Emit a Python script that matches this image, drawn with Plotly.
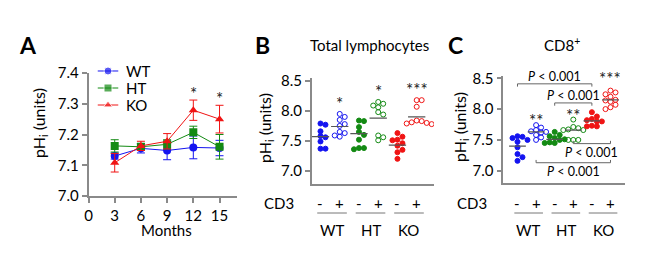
import plotly.graph_objects as go

# ---------------- data ----------------
months = [3, 6, 9, 12, 15]
wt_a = [7.130, 7.155, 7.148, 7.158, 7.156]
wt_a_err = [0.010, 0.015, 0.030, 0.037, 0.025]
ht_a = [7.163, 7.160, 7.168, 7.207, 7.160]
ht_a_err = [0.020, 0.010, 0.015, 0.020, 0.040]
ko_a = [7.108, 7.163, 7.178, 7.279, 7.250]
ko_a_err = [0.030, 0.015, 0.025, 0.033, 0.045]
a_sig_months = [12, 15]
a_sig_labels = ["*", "*"]

series_names = ["WT", "HT", "KO"]
groups = ["WT", "HT", "KO"]
cd3 = ["-", "+", "-", "+", "-", "+"]

# Panel B: total lymphocytes
b_wt_neg = [7.79, 7.77, 7.66, 7.58, 7.56, 7.49, 7.37, 7.37]
b_wt_pos = [7.95, 7.90, 7.85, 7.78, 7.75, 7.65, 7.63, 7.59, 7.57]
b_ht_neg = [7.84, 7.83, 7.73, 7.65, 7.60, 7.52, 7.38, 7.36, 7.38]
b_ht_pos = [8.15, 8.12, 8.09, 8.06, 7.98, 7.94, 7.59, 7.56, 7.51]
b_ko_neg = [7.63, 7.57, 7.52, 7.51, 7.46, 7.42, 7.35, 7.31, 7.20]
b_ko_pos = [8.18, 8.18, 8.07, 7.84, 7.83, 7.81, 7.79, 7.78, 7.80]
b_means = [7.57, 7.74, 7.62, 7.88, 7.43, 7.90]
b_sig = ["", "*", "", "*", "", "***"]

# Panel C: CD8+
c_wt_neg = [7.56, 7.55, 7.53, 7.50, 7.47, 7.38, 7.27, 7.22, 7.16]
c_wt_pos = [7.74, 7.70, 7.66, 7.64, 7.63, 7.62, 7.58, 7.54, 7.50]
c_ht_neg = [7.63, 7.58, 7.56, 7.53, 7.51, 7.50, 7.46, 7.45, 7.45]
c_ht_pos = [7.83, 7.71, 7.69, 7.67, 7.66, 7.66, 7.50, 7.50, 7.50]
c_ko_neg = [7.95, 7.88, 7.84, 7.82, 7.80, 7.80, 7.73, 7.72, 7.72]
c_ko_pos = [8.30, 8.27, 8.24, 8.20, 8.15, 8.14, 8.12, 8.07, 8.03, 8.00]
c_means = [7.40, 7.63, 7.51, 7.66, 7.81, 8.15]
c_sig = ["", "**", "", "**", "", "***"]
# comparisons: (from index, to index)
c_pairs = [(0, 4), (2, 4), (3, 5), (1, 5)]
p_label = "<i>P</i> < 0.001"

# ---------------- styling / layout constants ----------------
W, H = 650, 266
OFF = 8  # page body margin of the html page
FONT = "Lato"
BLUE, GREEN, RED = "#1414f0", "#138a13", "#f01414"
AXC = "#8a8a8a"
cols6 = [BLUE, BLUE, GREEN, GREEN, RED, RED]
series_cols = [BLUE, GREEN, RED]
series_syms = ["circle", "square", "triangle-up"]
# bracket levels / label placement in panel C (annotation geometry)
c_bracket_levels = [8.41, 8.10, 7.44, 7.13]
c_bracket_below = [False, False, True, True]
b_star_gap = [0, 0.17, 0, 0.17, 0, 0.17]
c_star_gap = [0, 0.07, 0, 0.06, 0, 0.19]


def px_x(p):
    return (p - OFF) / W


def px_y(p):
    return 1 - (p - OFF) / H


def swarm(vals, px_per_unit, cat_px, d=5.0):
    """simple deterministic beeswarm offsets (category units)"""
    placed = []
    offs = [0.0] * len(vals)
    order = sorted(range(len(vals)), key=lambda i: -vals[i])
    cands = [0, d, -d, 2 * d, -2 * d, 3 * d, -3 * d]
    for i in order:
        yp = vals[i] * px_per_unit
        for c in cands:
            ok = all(((c - ox) ** 2 + (yp - oy) ** 2) >= (d * 0.95) ** 2 for ox, oy in placed)
            if ok:
                placed.append((c, yp))
                offs[i] = c / cat_px
                break
    return offs


def ann(**kw):
    d = dict(showarrow=False, xanchor="center", yanchor="middle")
    d.update(kw)
    return d


fig = go.Figure()

# ---------- Panel A ----------
for name, vals, err, col, sym in zip(series_names, [wt_a, ht_a, ko_a],
                                     [wt_a_err, ht_a_err, ko_a_err], series_cols, series_syms):
    fig.add_trace(go.Scatter(
        x=months, y=vals, name=name, mode="lines+markers", showlegend=False,
        line=dict(color=col, width=1),
        marker=dict(color=col, symbol=sym, size=8),
        error_y=dict(type="data", array=err, color=col, thickness=1, width=4),
        xaxis="x", yaxis="y"))

# manual legend for panel A (short sample lines like the reference)
for k, (name, col, sym) in enumerate(zip(series_names, series_cols, series_syms)):
    fig.add_trace(go.Scatter(
        x=[0, 0.5, 1], y=[k, k, k], mode="lines+markers", showlegend=False, hoverinfo="skip",
        line=dict(color=col, width=1),
        marker=dict(color=col, symbol=sym, size=[0, 8, 0]),
        xaxis="x4", yaxis="y4"))


# ---------- Panels B and C ----------
def add_scatter_panel(data, means, xa, ya, ppu, cat_px):
    for i, vals in enumerate(data):
        offs = swarm(vals, ppu, cat_px)
        filled = (i % 2 == 0)
        fig.add_trace(go.Scatter(
            x=[i + o for o in offs], y=vals, mode="markers", showlegend=False,
            marker=dict(size=5, color=cols6[i],
                        symbol="circle" if filled else "circle-open",
                        line=dict(color=cols6[i], width=1)),
            xaxis=xa, yaxis=ya))
        fig.add_trace(go.Scatter(
            x=[i - 0.45, i + 0.45], y=[means[i], means[i]], mode="lines",
            showlegend=False, line=dict(color="#555555", width=1.2),
            xaxis=xa, yaxis=ya, hoverinfo="skip"))


b_data = [b_wt_neg, b_wt_pos, b_ht_neg, b_ht_pos, b_ko_neg, b_ko_pos]
c_data = [c_wt_neg, c_wt_pos, c_ht_neg, c_ht_pos, c_ko_neg, c_ko_pos]
add_scatter_panel(b_data, b_means, "x2", "y2", 60.0, 19.24)
add_scatter_panel(c_data, c_means, "x3", "y3", 61.6, 18.6)

annotations = []
shapes = []

# legend texts
for k, name in enumerate(series_names):
    annotations.append(ann(x=px_x(124), y=px_y(71 + 17 * k), xref="paper", yref="paper",
                           text=name, xanchor="left",
                           font=dict(size=15, color="black", family=FONT)))

# significance stars panel A
for m, lab in zip(a_sig_months, a_sig_labels):
    idx = months.index(m)
    annotations.append(ann(x=m, y=ko_a[idx] + ko_a_err[idx] + 0.022, xref="x", yref="y",
                           text=lab, font=dict(size=17, color="#222", family=FONT)))


def stars(sig, data, gaps, xa, ya):
    for i, s in enumerate(sig):
        if s:
            annotations.append(ann(x=i, y=max(data[i]) + gaps[i], xref=xa, yref=ya, text=s,
                                   font=dict(size=17, color="#222", family=FONT)))


stars(b_sig, b_data, b_star_gap, "x2", "y2")
stars(c_sig, c_data, c_star_gap, "x3", "y3")

# brackets in C
for (a, b), lvl, below in zip(c_pairs, c_bracket_levels, c_bracket_below):
    tick = 0.045 if below else -0.045
    shapes.append(dict(type="path", xref="x3", yref="y3",
                       path=f"M {a},{lvl + tick} L {a},{lvl} L {b},{lvl} L {b},{lvl + tick}",
                       line=dict(color="#666", width=1)))
    annotations.append(ann(x=(a + b) / 2, y=lvl, xref="x3", yref="y3",
                           text=p_label,
                           yanchor="top" if below else "bottom",
                           yshift=1 if below else -2,
                           font=dict(size=12.5, color="black", family=FONT)))

# CD3 rows and group labels for B and C
for xa, lab_x in [("x2", 279), ("x3", 472)]:
    annotations.append(ann(x=px_x(lab_x), y=px_y(203), xref="paper", yref="paper",
                           text="CD3", font=dict(size=15, color="black", family=FONT)))
    for i, s in enumerate(cd3):
        annotations.append(ann(x=i, y=px_y(203), xref=xa, yref="paper",
                               text=s, font=dict(size=15, color="black", family=FONT)))
    for g, name in enumerate(groups):
        shapes.append(dict(type="line", xref=xa, yref="paper",
                           x0=2 * g - 0.17, x1=2 * g + 1.37,
                           y0=px_y(213), y1=px_y(213), line=dict(color="#777", width=1)))
        annotations.append(ann(x=2 * g + 0.6, y=px_y(230), xref=xa, yref="paper",
                               text=name, font=dict(size=15, color="black", family=FONT)))

# panel letters and titles
for lx, txt in [(28, "A"), (262, "B"), (455, "C")]:
    annotations.append(ann(x=px_x(lx), y=px_y(45), xref="paper", yref="paper", text=f"<b>{txt}</b>",
                           font=dict(size=23, color="black", family=FONT)))
annotations.append(ann(x=px_x(369), y=px_y(45), xref="paper", yref="paper", text="Total lymphocytes",
                       font=dict(size=15, color="black", family=FONT)))
annotations.append(ann(x=px_x(562), y=px_y(44), xref="paper", yref="paper", text="CD8<sup>+</sup>",
                       font=dict(size=15, color="black", family=FONT)))

# y titles
for tx, ty in [(40, 123), (265, 128), (460, 127)]:
    annotations.append(ann(x=px_x(tx), y=px_y(ty), xref="paper", yref="paper",
                           text="pH<sub>i</sub> (units)", textangle=-90,
                           font=dict(size=16, color="black", family=FONT)))
annotations.append(ann(x=px_x(166), y=px_y(230), xref="paper", yref="paper", text="Months",
                       font=dict(size=15, color="black", family=FONT)))

axis_common = dict(showline=True, linecolor=AXC, linewidth=1.5, showgrid=False, zeroline=False,
                   tickfont=dict(size=15, color="black", family=FONT), ticks="outside",
                   tickcolor=AXC, ticklen=5, tickwidth=1.5, automargin=False)
xcat_common = dict(showline=True, linecolor=AXC, linewidth=1.5, showgrid=False, zeroline=False,
                   showticklabels=False, ticks="", automargin=False)
hidden = dict(visible=False, showgrid=False, zeroline=False, fixedrange=True)

fig.update_layout(
    template="none",
    width=W, height=H, margin=dict(l=0, r=0, t=0, b=0, pad=0, autoexpand=False),
    paper_bgcolor="white", plot_bgcolor="rgba(0,0,0,0)",
    font=dict(family=FONT, color="black"),
    xaxis=dict(domain=[px_x(88.5), px_x(237)], range=[0, 17], tickvals=[0, 3, 6, 9, 12, 15],
               anchor="y", **axis_common),
    yaxis=dict(domain=[px_y(196), px_y(73)], range=[7.0, 7.4], dtick=0.1, tickformat=".1f",
               anchor="x", **axis_common),
    xaxis2=dict(domain=[px_x(311.7), px_x(434)], range=[-0.457, 5.9], anchor="y2", **xcat_common),
    yaxis2=dict(domain=[px_y(184), px_y(78.3)], range=[6.78, 8.545], tickvals=[7.0, 7.5, 8.0, 8.5],
                tickformat=".1f", anchor="x2", **axis_common),
    xaxis3=dict(domain=[px_x(503.3), px_x(625)], range=[-0.763, 5.78], anchor="y3", **xcat_common),
    yaxis3=dict(domain=[px_y(183.3), px_y(76)], range=[6.796, 8.537], tickvals=[7.0, 7.5, 8.0, 8.5],
                tickformat=".1f", anchor="x3", **axis_common),
    xaxis4=dict(domain=[px_x(97.5), px_x(118.5)], range=[0, 1], anchor="y4", **hidden),
    yaxis4=dict(domain=[px_y(113), px_y(63)], range=[2.47, -0.47], anchor="x4", **hidden),
    showlegend=False,
    annotations=annotations, shapes=shapes,
)

fig.write_html("out.html")
